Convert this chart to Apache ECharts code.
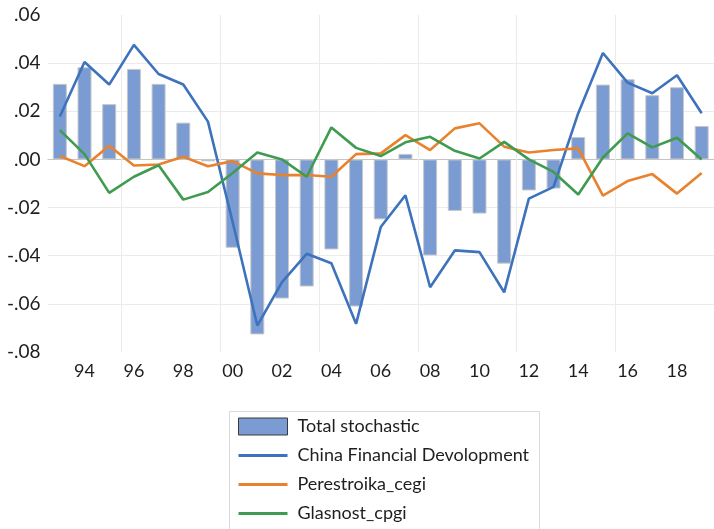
<!DOCTYPE html>
<html>
<head>
<meta charset="utf-8">
<script src="https://cdn.jsdelivr.net/npm/echarts@6/dist/echarts.min.js"></script>
<style>
  html, body { margin: 0; padding: 0; background: #ffffff; }
  #chart { width: 714px; height: 529px; }
</style>
</head>
<body>
<div id="chart"></div>
<script>
// Years on the category axis
const years = ['1993','1994','1995','1996','1997','1998','1999','2000','2001','2002',
  '2003','2004','2005','2006','2007','2008','2009','2010','2011','2012',
  '2013','2014','2015','2016','2017','2018','2019'];

// Value-axis tick labels, from -.08 up to .06
const yTickLabels = ['-.08','-.06','-.04','-.02','.00','.02','.04','.06'];

// Series values
const totalStochastic = [0.0314, 0.0383, 0.0230, 0.0376, 0.0314, 0.0153, -0.0008, -0.0367, -0.0727,
  -0.0578, -0.0528, -0.0374, -0.0611, -0.0249, 0.0023, -0.0399, -0.0214, -0.0225, -0.0433, -0.0129,
  -0.0121, 0.0093, 0.0311, 0.0333, 0.0267, 0.0300, 0.0139];

const chinaFinDev = [0.0178, 0.0405, 0.0311, 0.0476, 0.0355, 0.0311, 0.0157, -0.0260, -0.0690,
  -0.0510, -0.0392, -0.0431, -0.0683, -0.0281, -0.0149, -0.0531, -0.0378, -0.0385, -0.0552, -0.0163,
  -0.0114, 0.0192, 0.0442, 0.0319, 0.0275, 0.0350, 0.0192];

const perestroika = [0.0014, -0.0028, 0.0057, -0.0025, -0.0021, 0.0011, -0.0028, -0.0007, -0.0058,
  -0.0065, -0.0065, -0.0072, 0.0022, 0.0025, 0.0101, 0.0039, 0.0129, 0.0150, 0.0053, 0.0029,
  0.0039, 0.0046, -0.0150, -0.0090, -0.0061, -0.0142, -0.0056];

const glasnost = [0.0122, 0.0022, -0.0139, -0.0072, -0.0024, -0.0167, -0.0135, -0.0056, 0.0029,
  0.0000, -0.0072, 0.0133, 0.0048, 0.0014, 0.0071, 0.0094, 0.0036, 0.0004, 0.0073, 0.0000,
  -0.0052, -0.0146, 0.0008, 0.0108, 0.0050, 0.0090, 0.0000];

const FONT = 'Lato';
const TEXT = '#1e1e1e';
const lineIcon = 'path://M0,0 M0,17 M0,7 L49,7 L49,10 L0,10 Z';

const chart = echarts.init(document.getElementById('chart'), null, { renderer: 'canvas' });

chart.setOption({
  animation: false,
  backgroundColor: '#ffffff',
  grid: { left: 47.5, top: 15, width: 672, height: 337, containLabel: false },
  // frame around the legend block (runs off the bottom edge)
  graphic: [{
    type: 'rect', left: 227, top: 409, z: 0, silent: true,
    shape: { width: 310, height: 200 },
    style: { fill: 'none', stroke: '#d9d9d9', lineWidth: 1 }
  }],
  xAxis: {
    type: 'category',
    data: years,
    boundaryGap: true,
    axisLine: { show: false },
    axisTick: { show: false },
    axisLabel: {
      interval: (i) => i % 2 === 1,
      formatter: (v) => v.slice(2),
      color: TEXT, fontFamily: FONT, fontSize: 18, margin: 10
    },
    splitLine: {
      show: true,
      interval: (i) => i % 4 === 3,
      lineStyle: { color: '#ebebeb', width: 1 }
    }
  },
  yAxis: {
    type: 'value',
    min: -0.08, max: 0.06, interval: 0.02,
    axisLine: { show: false },
    axisTick: { show: false },
    axisLabel: {
      formatter: (v) => yTickLabels[Math.round((v + 0.08) / 0.02)],
      color: TEXT, fontFamily: FONT, fontSize: 19, margin: 7
    },
    splitLine: {
      show: true,
      lineStyle: {
        color: ['rgba(0,0,0,0)', '#ebebeb', '#ebebeb', '#ebebeb', '#c4c4c4', '#ebebeb', '#ebebeb', 'rgba(0,0,0,0)'],
        width: 1
      }
    }
  },
  legend: {
    orient: 'vertical',
    left: 238, top: 417.5,
    padding: 0,
    itemWidth: 49, itemHeight: 17, itemGap: 11,
    textStyle: { color: TEXT, fontFamily: FONT, fontSize: 18, lineHeight: 17, padding: [0, 0, 0, 5] },
    data: [
      { name: 'Total stochastic', icon: 'rect', itemStyle: { borderColor: '#3a3a3a', borderWidth: 1 } },
      { name: 'China Financial Devolopment', icon: lineIcon },
      { name: 'Perestroika_cegi', icon: lineIcon },
      { name: 'Glasnost_cpgi', icon: lineIcon }
    ]
  },
  series: [
    {
      name: 'Total stochastic', type: 'bar', data: totalStochastic, barWidth: 14,
      itemStyle: { color: '#7b9cd3', borderColor: '#c8c8c8', borderWidth: 1 }
    },
    {
      name: 'China Financial Devolopment', type: 'line', data: chinaFinDev,
      symbol: 'none', lineStyle: { color: '#3d72bd', width: 2.6 }, itemStyle: { color: '#3d72bd' }
    },
    {
      name: 'Perestroika_cegi', type: 'line', data: perestroika,
      symbol: 'none', lineStyle: { color: '#e8822f', width: 2.6 }, itemStyle: { color: '#e8822f' }
    },
    {
      name: 'Glasnost_cpgi', type: 'line', data: glasnost,
      symbol: 'none', lineStyle: { color: '#3f9b4f', width: 2.6 }, itemStyle: { color: '#3f9b4f' }
    }
  ]
});
</script>
</body>
</html>
